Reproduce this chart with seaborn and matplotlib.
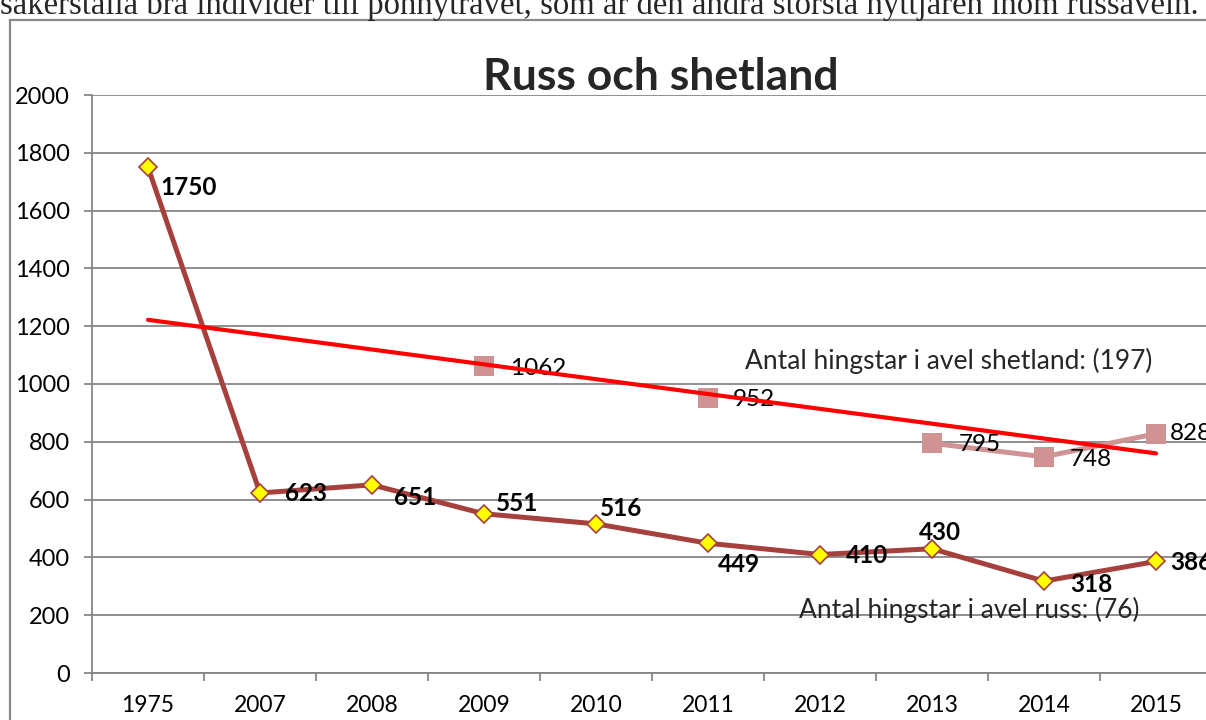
import numpy as np
import pandas as pd
import matplotlib
matplotlib.use('Agg')
import matplotlib.pyplot as plt
import matplotlib.patches as patches
import seaborn as sns

# --- data ---
years = ['1975', '2007', '2008', '2009', '2010', '2011', '2012', '2013', '2014', '2015']
russ = [1750, 623, 651, 551, 516, 449, 410, 430, 318, 386]
shetland = [np.nan, np.nan, np.nan, 1062, np.nan, 952, np.nan, 795, 748, 828]
trend_years = ['1975', '2015']
trend_values = [1222, 760]
yticks = list(range(0, 2001, 200))

title = 'Russ och shetland'
note_shetland = 'Antal hingstar i avel shetland: (197)'
note_russ = 'Antal hingstar i avel russ: (76)'
page_text = ('säkerställa bra individer till ponnytravet, som är den andra '
             'största nyttjaren inom russaveln.')

# label offsets in pixels (dx, dy), dy positive = up
russ_offsets = [(12, -20), (25, -1), (22, -13), (12, 10), (4, 15),
                (10, -21), (26, -1), (8, 16), (26, -3), (14, -1)]
russ_ha = ['left'] * 7 + ['center'] + ['left'] * 2
shet_offsets = {3: (26, -2), 5: (25, -2), 7: (27, -1), 8: (26, -3), 9: (14, 0)}

russ_color = '#A5403D'
shet_color = '#D09292'
trend_color = '#FF0000'
grid_color = '#868686'

sns.set_style('white')
plt.rcParams['font.family'] = ['Lato', 'DejaVu Sans']

df = pd.DataFrame({'pos': range(len(years)), 'year': years,
                   'russ': russ, 'shetland': shetland})
df['seg'] = df['shetland'].isna().cumsum()
shet_df = df.dropna(subset=['shetland'])
trend_df = pd.DataFrame({'pos': [years.index(y) for y in trend_years],
                         'trend': trend_values})

fig = plt.figure(figsize=(12.06, 7.2), dpi=100)
ax = fig.add_axes([92 / 1206, 47 / 720, 1120 / 1206, 578 / 720])

# frame of the embedded chart + page text above it
fig.patches.append(patches.Rectangle((10 / 1206, -0.1), 1.2, 700 / 720 + 0.1,
                                     transform=fig.transFigure, fill=False,
                                     edgecolor='#8a8a8a', lw=1.6))
fig.text(0.0, 706 / 720, page_text, family='Liberation Serif', fontsize=23.6,
         ha='left', va='baseline')

sns.lineplot(data=shet_df, x='pos', y='shetland', units='seg', estimator=None,
             color=shet_color, lw=3.6, marker='s', markersize=14,
             markeredgewidth=0, legend=False, ax=ax)
sns.lineplot(data=df, x='pos', y='russ', color=russ_color, lw=3.6,
             marker='D', markersize=9, markerfacecolor='#FFFF00',
             markeredgecolor=russ_color, markeredgewidth=1.2,
             legend=False, ax=ax, zorder=3)
sns.lineplot(data=trend_df, x='pos', y='trend', color=trend_color, lw=3,
             legend=False, ax=ax, zorder=4)

for i, v in enumerate(russ):
    ax.annotate(str(v), (i, v), xytext=russ_offsets[i], textcoords='offset pixels',
                ha=russ_ha[i], va='center', fontsize=17.5, fontweight='bold',
                color='black')
for i, v in enumerate(shetland):
    if np.isnan(v):
        continue
    ax.annotate(str(int(v)), (i, v), xytext=shet_offsets[i],
                textcoords='offset pixels', ha='left', va='center',
                fontsize=17.5, color='black')

ax.text(7.15, 1080, note_shetland, ha='center', va='center', fontsize=19)
ax.text(7.33, 218, note_russ, ha='center', va='center', fontsize=19)

fig.text(661 / 1206, 643 / 720, title, ha='center', va='center',
         fontsize=32, fontweight='bold')

ax.set_xlim(-0.5, len(years) - 0.5)
ax.set_ylim(0, 2000)
ax.set_xticks(range(len(years)), years)
ax.set_xticks(np.arange(-0.5, len(years), 1), minor=True)
ax.set_yticks(yticks)
ax.tick_params(axis='x', which='major', length=0, pad=16, labelsize=16.5,
               labelcolor='black')
ax.tick_params(axis='x', which='minor', length=6, width=1.3, color=grid_color,
               direction='out', bottom=True)
ax.tick_params(axis='y', length=6, width=1.3, color=grid_color, direction='out',
               left=True, pad=10, labelsize=17, labelcolor='black')
ax.yaxis.grid(True, color=grid_color, lw=1.3)
ax.xaxis.grid(False)
ax.set_axisbelow(True)
ax.set_xlabel('')
ax.set_ylabel('')
for side in ['top', 'right']:
    ax.spines[side].set_visible(False)
for side in ['left', 'bottom']:
    ax.spines[side].set_color(grid_color)
    ax.spines[side].set_linewidth(1.3)

fig.savefig('out.png', dpi=100)
